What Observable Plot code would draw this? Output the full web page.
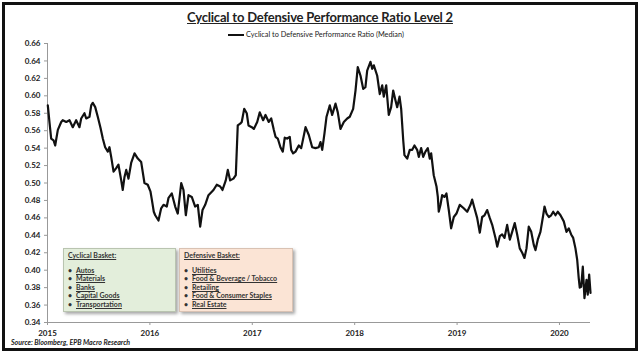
<!DOCTYPE html>
<html>
<head>
<meta charset="utf-8">
<script src="https://cdn.jsdelivr.net/npm/d3@7"></script>
<script src="https://cdn.jsdelivr.net/npm/@observablehq/plot@0.6"></script>
<style>
  html, body { margin: 0; padding: 0; background: #fff; }
  #frame { position: relative; width: 640px; height: 353px; overflow: hidden; font-family: Lato, "Open Sans", sans-serif; }
  #border { position: absolute; left: 2px; top: 2px; width: 630px; height: 343px; border: 3px solid #111; pointer-events: none; }
  #chart { position: absolute; left: 0; top: 0; }
  .title { position: absolute; left: 0; width: 640px; top: 9px; text-align: center; font-weight: 700; font-size: 13px; color: #222; text-decoration: underline; letter-spacing: -0.2px; }
  .legend { position: absolute; left: 228px; top: 30px; font-size: 7.3px; color: #222; display: flex; align-items: center; white-space: nowrap; }
  .legend .sw { width: 16px; height: 2px; background: #111; margin-right: 2px; }
  .source { position: absolute; left: 11px; top: 338px; font-size: 7px; font-weight: 700; font-style: italic; color: #222; }
  .box { position: absolute; top: 248px; height: 64px; box-sizing: border-box; border: 1px solid #b9c4b0; box-shadow: 2px 2px 3px rgba(0,0,0,0.35); font-size: 7px; font-weight: 700; color: #333; }
  .box .hd { position: absolute; left: 4px; top: 2px; text-decoration: underline; }
  .box ul { position: absolute; left: 4px; top: 17px; margin: 0; padding: 0; list-style: none; }
  .box li { height: 8.4px; line-height: 8.4px; white-space: nowrap; }
  .box li .b { display: inline-block; width: 8px; text-decoration: none; }
  .box li .t { text-decoration: underline; }
</style>
</head>
<body>
<div id="frame">
  <div id="chart"></div>
  <div class="title" id="title"></div>
  <div class="legend"><div class="sw"></div><span id="legendText"></span></div>
  <div class="source" id="source"></div>
  <div class="box" id="cycBox" style="left:63px;width:113px;background:#e3eedb;"></div>
  <div class="box" id="defBox" style="left:179px;width:114px;background:#fbe4d5;border-color:#d9c2b3;"></div>
  <div id="border"></div>
</div>
<script>
// ---- data ----
const titleText = "Cyclical to Defensive Performance Ratio Level 2";
const seriesName = "Cyclical to Defensive Performance Ratio (Median)";
const sourceText = "Source: Bloomberg, EPB Macro Research";
const cyclicalHeader = "Cyclical Basket:";
const cyclicalItems = ["Autos", "Materials", "Banks", "Capital Goods", "Transportation"];
const defensiveHeader = "Defensive Basket:";
const defensiveItems = ["Utilities", "Food & Beverage / Tobacco", "Retailing", "Food & Consumer Staples", "Real Estate"];
const yTicks = [0.34,0.36,0.38,0.40,0.42,0.44,0.46,0.48,0.50,0.52,0.54,0.56,0.58,0.60,0.62,0.64,0.66];
const xTicks = [2015, 2016, 2017, 2018, 2019, 2020];

// time as decimal year
const t = [
2015.003,2015.020,2015.036,2015.059,2015.075,2015.101,2015.134,2015.149,2015.183,2015.215,
2015.247,2015.280,2015.312,2015.329,2015.361,2015.378,2015.410,2015.427,2015.442,2015.466,
2015.491,2015.518,2015.540,2015.563,2015.589,2015.605,2015.622,2015.645,2015.671,2015.693,
2015.720,2015.735,2015.752,2015.769,2015.791,2015.817,2015.850,2015.882,2015.915,2015.947,
2015.979,2016.006,2016.019,2016.038,2016.052,2016.084,2016.110,2016.133,2016.165,2016.182,
2016.214,2016.247,2016.272,2016.306,2016.328,2016.351,2016.377,2016.409,2016.442,2016.468,
2016.491,2016.514,2016.540,2016.572,2016.621,2016.653,2016.687,2016.709,2016.741,2016.761,
2016.784,2016.816,2016.839,2016.858,2016.882,2016.897,2016.921,2016.946,2016.963,2016.995,
2017.015,2017.048,2017.073,2017.106,2017.129,2017.161,2017.185,2017.210,2017.227,2017.249,
2017.275,2017.298,2017.317,2017.341,2017.366,2017.380,2017.399,2017.422,2017.454,2017.478,
2017.520,2017.552,2017.585,2017.617,2017.649,2017.666,2017.683,2017.705,2017.725,2017.757,
2017.780,2017.813,2017.835,2017.861,2017.894,2017.927,2017.952,2017.985,2018.008,2018.030,
2018.057,2018.083,2018.105,2018.122,2018.154,2018.171,2018.187,2018.220,2018.245,2018.269,
2018.284,2018.308,2018.333,2018.356,2018.376,2018.398,2018.415,2018.438,2018.454,2018.474,
2018.486,2018.513,2018.538,2018.562,2018.584,2018.610,2018.626,2018.649,2018.669,2018.691,
2018.714,2018.733,2018.747,2018.772,2018.799,2018.812,2018.821,2018.838,2018.854,2018.877,
2018.896,2018.919,2018.942,2018.968,2018.994,2019.026,2019.065,2019.099,2019.131,2019.147,
2019.170,2019.196,2019.222,2019.245,2019.268,2019.294,2019.319,2019.343,2019.375,2019.392,
2019.417,2019.440,2019.463,2019.489,2019.515,2019.538,2019.563,2019.587,2019.612,2019.636,
2019.658,2019.678,2019.700,2019.724,2019.749,2019.766,2019.788,2019.814,2019.841,2019.854,
2019.873,2019.896,2019.919,2019.939,2019.961,2019.983,2020.010,2020.042,2020.068,2020.091,
2020.114,2020.134,2020.156,2020.173,2020.188,2020.198,2020.212,2020.228,2020.244,2020.264,
2020.276,2020.290,2020.303
];
const v = [
0.589,0.569,0.551,0.549,0.543,0.561,0.570,0.572,0.570,0.572,
0.564,0.572,0.564,0.574,0.580,0.574,0.576,0.589,0.592,0.587,
0.576,0.563,0.551,0.541,0.536,0.541,0.530,0.513,0.517,0.521,
0.503,0.492,0.507,0.515,0.505,0.523,0.534,0.528,0.524,0.500,
0.498,0.490,0.481,0.467,0.463,0.457,0.471,0.475,0.473,0.483,
0.488,0.473,0.465,0.500,0.492,0.463,0.486,0.484,0.473,0.475,
0.450,0.469,0.475,0.486,0.492,0.498,0.496,0.492,0.503,0.515,
0.503,0.505,0.509,0.566,0.568,0.570,0.585,0.580,0.566,0.564,
0.562,0.570,0.581,0.572,0.578,0.570,0.574,0.561,0.553,0.551,
0.541,0.536,0.552,0.551,0.553,0.538,0.534,0.536,0.543,0.540,
0.564,0.555,0.541,0.540,0.541,0.547,0.538,0.557,0.576,0.589,
0.578,0.591,0.581,0.562,0.570,0.574,0.576,0.585,0.606,0.633,
0.623,0.608,0.610,0.629,0.639,0.631,0.635,0.623,0.602,0.612,
0.599,0.612,0.578,0.587,0.606,0.595,0.587,0.599,0.585,0.549,
0.532,0.528,0.538,0.538,0.543,0.538,0.530,0.540,0.530,0.536,
0.540,0.528,0.534,0.509,0.496,0.484,0.467,0.475,0.486,0.484,
0.488,0.469,0.448,0.461,0.465,0.475,0.471,0.467,0.475,0.481,
0.471,0.460,0.443,0.461,0.463,0.469,0.460,0.452,0.437,0.427,
0.439,0.441,0.437,0.452,0.435,0.444,0.454,0.441,0.425,0.420,
0.414,0.425,0.450,0.444,0.429,0.423,0.435,0.444,0.463,0.473,
0.465,0.461,0.463,0.467,0.463,0.467,0.463,0.456,0.444,0.448,
0.441,0.437,0.425,0.412,0.391,0.380,0.381,0.404,0.368,0.389,
0.372,0.395,0.374
];

const data = t.map((d, i) => ({t: d, v: v[i]}));

const chart = Plot.plot({
  width: 640,
  height: 353,
  marginLeft: 47,
  marginRight: 50,
  marginTop: 43,
  marginBottom: 31,
  style: { fontFamily: "Lato, 'Open Sans', sans-serif", fontSize: "8px", background: "transparent", color: "#222" },
  x: { domain: [2015, 2020.303] },
  y: { domain: [0.34, 0.66] },
  marks: [
    Plot.axisY({ ticks: yTicks, tickFormat: d3.format(".2f"), tickSize: 3, tickPadding: 4, fontWeight: "bold", stroke: "#999", label: null }),
    Plot.axisX({ ticks: xTicks, tickFormat: "d", tickSize: 3, tickPadding: 5, fontWeight: "bold", stroke: "#999", label: null }),
    Plot.ruleX([2015], { stroke: "#999", strokeWidth: 1 }),
    Plot.ruleY([0.34], { stroke: "#999", strokeWidth: 1 }),
    Plot.line(data, { x: "t", y: "v", stroke: "#111", strokeWidth: 2.2, strokeLinejoin: "round" })
  ]
});
document.getElementById("chart").appendChild(chart);

document.getElementById("title").textContent = titleText;
document.getElementById("legendText").textContent = seriesName;
document.getElementById("source").textContent = sourceText;

function fillBox(id, header, items) {
  const box = document.getElementById(id);
  const hd = document.createElement("div");
  hd.className = "hd";
  hd.textContent = header;
  box.appendChild(hd);
  const ul = document.createElement("ul");
  items.forEach(it => {
    const li = document.createElement("li");
    const b = document.createElement("span"); b.className = "b"; b.textContent = "•";
    const tx = document.createElement("span"); tx.className = "t"; tx.textContent = it;
    li.appendChild(b); li.appendChild(tx);
    ul.appendChild(li);
  });
  box.appendChild(ul);
}
fillBox("cycBox", cyclicalHeader, cyclicalItems);
fillBox("defBox", defensiveHeader, defensiveItems);
</script>
</body>
</html>
